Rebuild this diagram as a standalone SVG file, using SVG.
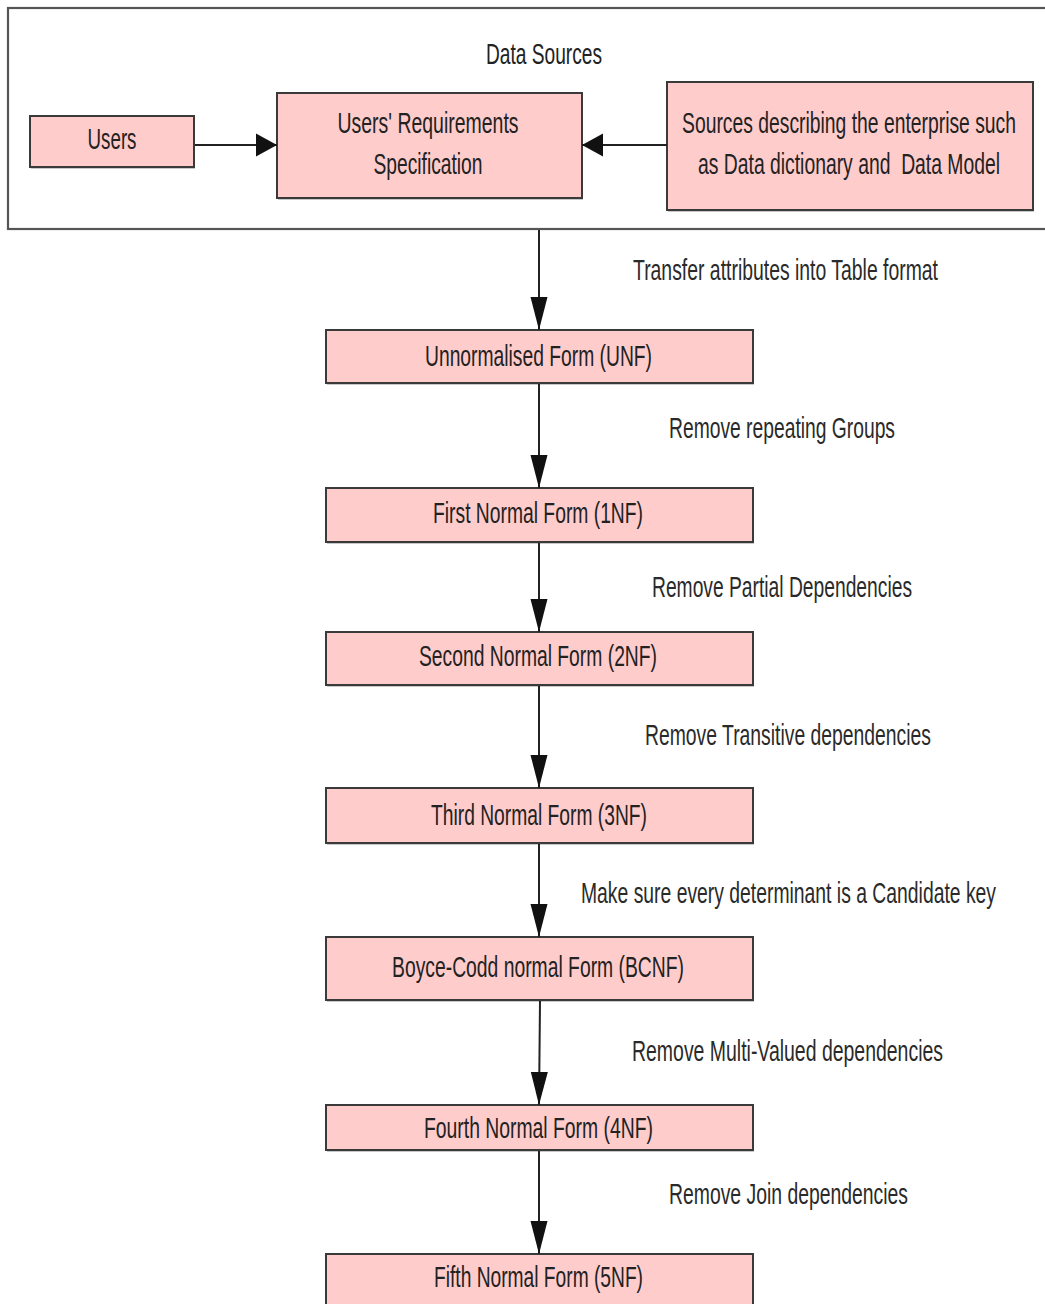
<svg xmlns="http://www.w3.org/2000/svg" width="1045" height="1304" viewBox="0 0 1045 1304">
  <style>
    .box { fill: #ffcccc; stroke: #3a3a3a; stroke-width: 2; }
    .shadow { fill: #9a9a9a; opacity: 0.55; }
    .frame { fill: none; stroke: #555; stroke-width: 2.2; }
    /* condensed face: glyphs are squeezed horizontally by the group transform */
    .lbl, .edge-lbl { font-family: "Liberation Sans", Arial, sans-serif; font-size: 29px; text-anchor: middle; }
    .lbl { fill: #222; }
    .edge-lbl { fill: #2a2a2a; }
    .wire { stroke: #222; stroke-width: 2; fill: none; }
  </style>
  <defs>
    <!-- vertical flow arrowhead: narrow and long -->
    <marker id="arrowV" markerUnits="userSpaceOnUse" markerWidth="34" markerHeight="18" refX="33" refY="8.5" orient="auto" viewBox="0 0 34 17">
      <polygon points="0,0 33,8.5 0,17" fill="#111"/>
    </marker>
    <!-- horizontal arrowhead: short and tall -->
    <marker id="arrowH" markerUnits="userSpaceOnUse" markerWidth="22" markerHeight="24" refX="21" refY="11.5" orient="auto" viewBox="0 0 22 23">
      <polygon points="0,0 21,11.5 0,23" fill="#111"/>
    </marker>
  </defs>

  <rect width="1045" height="1304" fill="#fff"/>

  <!-- Data sources container -->
  <g id="data-sources">
    <rect class="frame" x="8" y="8" width="1050" height="221"/>
    <text class="lbl" transform="translate(544,64) scale(0.6667,1)" textLength="174" lengthAdjust="spacingAndGlyphs">Data Sources</text>
  </g>

  <g id="users">
    <rect class="shadow" x="31" y="118" width="164" height="51"/>
    <rect class="box" x="30" y="116" width="164" height="51"/>
    <text class="lbl" transform="translate(112,149) scale(0.6667,1)" textLength="73.5" lengthAdjust="spacingAndGlyphs">Users</text>
  </g>

  <g id="requirements-spec">
    <rect class="shadow" x="278" y="95" width="305" height="105"/>
    <rect class="box" x="277" y="93" width="305" height="105"/>
    <text class="lbl" transform="translate(428,133) scale(0.6667,1)" textLength="271.5" lengthAdjust="spacingAndGlyphs">Users' Requirements</text>
    <text class="lbl" transform="translate(428,174) scale(0.6667,1)" textLength="163.5" lengthAdjust="spacingAndGlyphs">Specification</text>
  </g>

  <g id="enterprise-sources">
    <rect class="shadow" x="668" y="84" width="366" height="128"/>
    <rect class="box" x="667" y="82" width="366" height="128"/>
    <text class="lbl" transform="translate(849,133) scale(0.6667,1)" textLength="501" lengthAdjust="spacingAndGlyphs">Sources describing the enterprise such</text>
    <text class="lbl" transform="translate(849,174) scale(0.6667,1)" textLength="453" lengthAdjust="spacingAndGlyphs" xml:space="preserve">as Data dictionary and  Data Model</text>
  </g>

  <!-- Normal form stages -->
  <g id="unf">
    <rect class="shadow" x="327" y="332" width="427" height="53"/>
    <rect class="box" x="326" y="330" width="427" height="53"/>
    <text class="lbl" transform="translate(538.5,366) scale(0.6667,1)" textLength="340.5" lengthAdjust="spacingAndGlyphs">Unnormalised Form (UNF)</text>
  </g>

  <g id="nf1">
    <rect class="shadow" x="327" y="490" width="427" height="54"/>
    <rect class="box" x="326" y="488" width="427" height="54"/>
    <text class="lbl" transform="translate(538,523) scale(0.6667,1)" textLength="315" lengthAdjust="spacingAndGlyphs">First Normal Form (1NF)</text>
  </g>

  <g id="nf2">
    <rect class="shadow" x="327" y="634" width="427" height="53"/>
    <rect class="box" x="326" y="632" width="427" height="53"/>
    <text class="lbl" transform="translate(538,666) scale(0.6667,1)" textLength="357" lengthAdjust="spacingAndGlyphs">Second Normal Form (2NF)</text>
  </g>

  <g id="nf3">
    <rect class="shadow" x="327" y="790" width="427" height="55"/>
    <rect class="box" x="326" y="788" width="427" height="55"/>
    <text class="lbl" transform="translate(539,825) scale(0.6667,1)" textLength="324" lengthAdjust="spacingAndGlyphs">Third Normal Form (3NF)</text>
  </g>

  <g id="bcnf">
    <rect class="shadow" x="327" y="939" width="427" height="63"/>
    <rect class="box" x="326" y="937" width="427" height="63"/>
    <text class="lbl" transform="translate(538,977) scale(0.6667,1)" textLength="438" lengthAdjust="spacingAndGlyphs">Boyce-Codd normal Form (BCNF)</text>
  </g>

  <g id="nf4">
    <rect class="shadow" x="327" y="1107" width="427" height="45"/>
    <rect class="box" x="326" y="1105" width="427" height="45"/>
    <text class="lbl" transform="translate(538.5,1138) scale(0.6667,1)" textLength="343.5" lengthAdjust="spacingAndGlyphs">Fourth Normal Form (4NF)</text>
  </g>

  <g id="nf5">
    <rect class="shadow" x="327" y="1256" width="427" height="60"/>
    <rect class="box" x="326" y="1254" width="427" height="60"/>
    <text class="lbl" transform="translate(538.5,1287) scale(0.6667,1)" textLength="313.5" lengthAdjust="spacingAndGlyphs">Fifth Normal Form (5NF)</text>
  </g>

  <!-- Connectors -->
  <g id="connectors">
    <line class="wire" x1="195" y1="145" x2="277" y2="145" marker-end="url(#arrowH)"/>
    <line class="wire" x1="667" y1="145" x2="582" y2="145" marker-end="url(#arrowH)"/>

    <line class="wire" x1="539" y1="230" x2="539" y2="330" marker-end="url(#arrowV)"/>
    <line class="wire" x1="539" y1="384" x2="539" y2="488" marker-end="url(#arrowV)"/>
    <line class="wire" x1="539" y1="543" x2="539" y2="632" marker-end="url(#arrowV)"/>
    <line class="wire" x1="539" y1="686" x2="539" y2="788" marker-end="url(#arrowV)"/>
    <line class="wire" x1="539" y1="844" x2="539" y2="937" marker-end="url(#arrowV)"/>
    <line class="wire" x1="540" y1="1001" x2="539" y2="1105" marker-end="url(#arrowV)"/>
    <line class="wire" x1="539" y1="1151" x2="539" y2="1254" marker-end="url(#arrowV)"/>

    <text class="edge-lbl" transform="translate(785.5,280) scale(0.6667,1)" textLength="457.5" lengthAdjust="spacingAndGlyphs">Transfer attributes into Table format</text>
    <text class="edge-lbl" transform="translate(782,438) scale(0.6667,1)" textLength="339" lengthAdjust="spacingAndGlyphs">Remove repeating Groups</text>
    <text class="edge-lbl" transform="translate(782,597) scale(0.6667,1)" textLength="390" lengthAdjust="spacingAndGlyphs">Remove Partial Dependencies</text>
    <text class="edge-lbl" transform="translate(788,745) scale(0.6667,1)" textLength="429" lengthAdjust="spacingAndGlyphs">Remove Transitive dependencies</text>
    <text class="edge-lbl" transform="translate(788.5,903) scale(0.6667,1)" textLength="622.5" lengthAdjust="spacingAndGlyphs">Make sure every determinant is a Candidate key</text>
    <text class="edge-lbl" transform="translate(787.5,1061) scale(0.6667,1)" textLength="466.5" lengthAdjust="spacingAndGlyphs">Remove Multi-Valued dependencies</text>
    <text class="edge-lbl" transform="translate(788.5,1204) scale(0.6667,1)" textLength="358.5" lengthAdjust="spacingAndGlyphs">Remove Join dependencies</text>
  </g>
</svg>
